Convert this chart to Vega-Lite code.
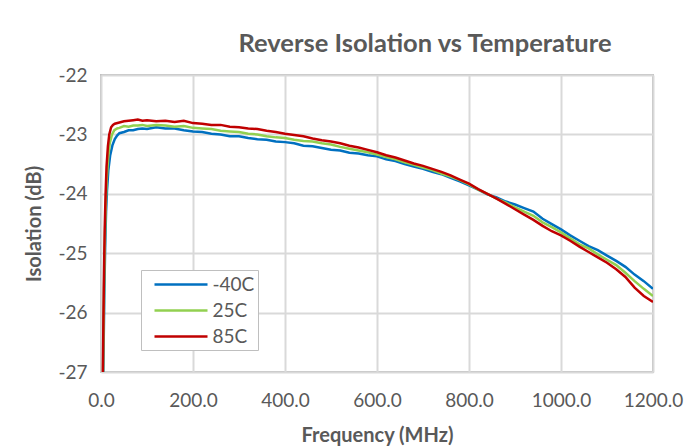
{
  "$schema": "https://vega.github.io/schema/vega-lite/v6.json",
  "width": 552,
  "height": 297,
  "autosize": {"type": "none"},
  "padding": {"left": 101, "top": 75, "right": 36, "bottom": 75},
  "background": "white",
  "title": {
    "text": "Reverse Isolation vs Temperature",
    "font": "Lato",
    "fontSize": 25.5,
    "fontWeight": "bold",
    "color": "#595959",
    "anchor": "middle",
    "dx": 48,
    "offset": 9
  },
  "config": {
    "view": {"stroke": "#bfbfbf", "strokeWidth": 2},
    "axis": {
      "labelFont": "Lato",
      "labelFontSize": 19,
      "labelColor": "#595959",
      "titleFont": "Lato",
      "titleFontSize": 20,
      "titleFontWeight": "bold",
      "titleColor": "#595959",
      "gridColor": "#d9d9d9",
      "gridWidth": 2,
      "domain": false,
      "ticks": false,
      "labelFlush": false,
      "labelOverlap": false,
      "labelBound": false
    },
    "legend": {"strokeColor": "#bfbfbf", "fillColor": "white"}
  },
  "data": {
    "values": [
      {"f":5,"v":-27.0,"s":"-40C"},{"f":7,"v":-25.8,"s":"-40C"},{"f":9,"v":-24.9,"s":"-40C"},{"f":11,"v":-24.3,"s":"-40C"},{"f":13,"v":-23.95,"s":"-40C"},{"f":16,"v":-23.6,"s":"-40C"},{"f":20,"v":-23.35,"s":"-40C"},{"f":25,"v":-23.18,"s":"-40C"},{"f":30,"v":-23.08,"s":"-40C"},{"f":35,"v":-23.02,"s":"-40C"},{"f":40,"v":-22.98,"s":"-40C"},{"f":50,"v":-22.96,"s":"-40C"},{"f":60,"v":-22.93,"s":"-40C"},{"f":70,"v":-22.93,"s":"-40C"},{"f":80,"v":-22.91,"s":"-40C"},{"f":90,"v":-22.9,"s":"-40C"},{"f":100,"v":-22.91,"s":"-40C"},{"f":120,"v":-22.88,"s":"-40C"},{"f":140,"v":-22.9,"s":"-40C"},{"f":160,"v":-22.9,"s":"-40C"},{"f":180,"v":-22.93,"s":"-40C"},{"f":200,"v":-22.95,"s":"-40C"},{"f":220,"v":-22.96,"s":"-40C"},{"f":240,"v":-22.99,"s":"-40C"},{"f":260,"v":-23.0,"s":"-40C"},{"f":280,"v":-23.03,"s":"-40C"},{"f":300,"v":-23.03,"s":"-40C"},{"f":320,"v":-23.06,"s":"-40C"},{"f":340,"v":-23.08,"s":"-40C"},{"f":360,"v":-23.09,"s":"-40C"},{"f":380,"v":-23.12,"s":"-40C"},{"f":400,"v":-23.13,"s":"-40C"},{"f":420,"v":-23.15,"s":"-40C"},{"f":440,"v":-23.19,"s":"-40C"},{"f":460,"v":-23.2,"s":"-40C"},{"f":480,"v":-23.23,"s":"-40C"},{"f":500,"v":-23.26,"s":"-40C"},{"f":520,"v":-23.27,"s":"-40C"},{"f":540,"v":-23.31,"s":"-40C"},{"f":560,"v":-23.32,"s":"-40C"},{"f":580,"v":-23.35,"s":"-40C"},{"f":600,"v":-23.37,"s":"-40C"},{"f":620,"v":-23.42,"s":"-40C"},{"f":640,"v":-23.45,"s":"-40C"},{"f":660,"v":-23.5,"s":"-40C"},{"f":680,"v":-23.54,"s":"-40C"},{"f":700,"v":-23.58,"s":"-40C"},{"f":720,"v":-23.63,"s":"-40C"},{"f":740,"v":-23.67,"s":"-40C"},{"f":760,"v":-23.73,"s":"-40C"},{"f":780,"v":-23.79,"s":"-40C"},{"f":800,"v":-23.86,"s":"-40C"},{"f":820,"v":-23.93,"s":"-40C"},{"f":840,"v":-24.01,"s":"-40C"},{"f":860,"v":-24.06,"s":"-40C"},{"f":880,"v":-24.13,"s":"-40C"},{"f":900,"v":-24.18,"s":"-40C"},{"f":920,"v":-24.24,"s":"-40C"},{"f":940,"v":-24.3,"s":"-40C"},{"f":960,"v":-24.42,"s":"-40C"},{"f":980,"v":-24.51,"s":"-40C"},{"f":1000,"v":-24.6,"s":"-40C"},{"f":1020,"v":-24.7,"s":"-40C"},{"f":1040,"v":-24.79,"s":"-40C"},{"f":1060,"v":-24.88,"s":"-40C"},{"f":1080,"v":-24.95,"s":"-40C"},{"f":1100,"v":-25.04,"s":"-40C"},{"f":1120,"v":-25.13,"s":"-40C"},{"f":1140,"v":-25.23,"s":"-40C"},{"f":1160,"v":-25.36,"s":"-40C"},{"f":1180,"v":-25.47,"s":"-40C"},{"f":1200,"v":-25.6,"s":"-40C"},
      {"f":4.5,"v":-27.0,"s":"25C"},{"f":6.5,"v":-25.7,"s":"25C"},{"f":8.5,"v":-24.75,"s":"25C"},{"f":10.5,"v":-24.15,"s":"25C"},{"f":12.5,"v":-23.75,"s":"25C"},{"f":15.5,"v":-23.4,"s":"25C"},{"f":19,"v":-23.15,"s":"25C"},{"f":24,"v":-23.0,"s":"25C"},{"f":29,"v":-22.93,"s":"25C"},{"f":35,"v":-22.9,"s":"25C"},{"f":40,"v":-22.89,"s":"25C"},{"f":50,"v":-22.86,"s":"25C"},{"f":60,"v":-22.87,"s":"25C"},{"f":70,"v":-22.85,"s":"25C"},{"f":80,"v":-22.85,"s":"25C"},{"f":90,"v":-22.84,"s":"25C"},{"f":100,"v":-22.86,"s":"25C"},{"f":120,"v":-22.84,"s":"25C"},{"f":140,"v":-22.85,"s":"25C"},{"f":160,"v":-22.87,"s":"25C"},{"f":180,"v":-22.86,"s":"25C"},{"f":200,"v":-22.89,"s":"25C"},{"f":220,"v":-22.9,"s":"25C"},{"f":240,"v":-22.91,"s":"25C"},{"f":260,"v":-22.94,"s":"25C"},{"f":280,"v":-22.95,"s":"25C"},{"f":300,"v":-22.96,"s":"25C"},{"f":320,"v":-22.99,"s":"25C"},{"f":340,"v":-23.0,"s":"25C"},{"f":360,"v":-23.03,"s":"25C"},{"f":380,"v":-23.05,"s":"25C"},{"f":400,"v":-23.06,"s":"25C"},{"f":420,"v":-23.09,"s":"25C"},{"f":440,"v":-23.11,"s":"25C"},{"f":460,"v":-23.12,"s":"25C"},{"f":480,"v":-23.15,"s":"25C"},{"f":500,"v":-23.17,"s":"25C"},{"f":520,"v":-23.21,"s":"25C"},{"f":540,"v":-23.24,"s":"25C"},{"f":560,"v":-23.27,"s":"25C"},{"f":580,"v":-23.3,"s":"25C"},{"f":600,"v":-23.34,"s":"25C"},{"f":620,"v":-23.38,"s":"25C"},{"f":640,"v":-23.42,"s":"25C"},{"f":660,"v":-23.47,"s":"25C"},{"f":680,"v":-23.51,"s":"25C"},{"f":700,"v":-23.56,"s":"25C"},{"f":720,"v":-23.6,"s":"25C"},{"f":740,"v":-23.66,"s":"25C"},{"f":760,"v":-23.71,"s":"25C"},{"f":780,"v":-23.77,"s":"25C"},{"f":800,"v":-23.84,"s":"25C"},{"f":820,"v":-23.93,"s":"25C"},{"f":840,"v":-24.0,"s":"25C"},{"f":860,"v":-24.08,"s":"25C"},{"f":880,"v":-24.15,"s":"25C"},{"f":900,"v":-24.23,"s":"25C"},{"f":920,"v":-24.3,"s":"25C"},{"f":940,"v":-24.37,"s":"25C"},{"f":960,"v":-24.48,"s":"25C"},{"f":980,"v":-24.56,"s":"25C"},{"f":1000,"v":-24.65,"s":"25C"},{"f":1020,"v":-24.75,"s":"25C"},{"f":1040,"v":-24.85,"s":"25C"},{"f":1060,"v":-24.92,"s":"25C"},{"f":1080,"v":-25.02,"s":"25C"},{"f":1100,"v":-25.11,"s":"25C"},{"f":1120,"v":-25.2,"s":"25C"},{"f":1140,"v":-25.33,"s":"25C"},{"f":1160,"v":-25.47,"s":"25C"},{"f":1180,"v":-25.6,"s":"25C"},{"f":1200,"v":-25.72,"s":"25C"},
      {"f":4,"v":-27.0,"s":"85C"},{"f":6,"v":-25.6,"s":"85C"},{"f":8,"v":-24.6,"s":"85C"},{"f":10,"v":-24.0,"s":"85C"},{"f":12,"v":-23.55,"s":"85C"},{"f":15,"v":-23.2,"s":"85C"},{"f":18,"v":-23.0,"s":"85C"},{"f":22,"v":-22.88,"s":"85C"},{"f":26,"v":-22.84,"s":"85C"},{"f":30,"v":-22.82,"s":"85C"},{"f":40,"v":-22.8,"s":"85C"},{"f":50,"v":-22.78,"s":"85C"},{"f":60,"v":-22.77,"s":"85C"},{"f":70,"v":-22.76,"s":"85C"},{"f":80,"v":-22.75,"s":"85C"},{"f":90,"v":-22.77,"s":"85C"},{"f":100,"v":-22.76,"s":"85C"},{"f":120,"v":-22.78,"s":"85C"},{"f":140,"v":-22.77,"s":"85C"},{"f":160,"v":-22.79,"s":"85C"},{"f":180,"v":-22.77,"s":"85C"},{"f":200,"v":-22.81,"s":"85C"},{"f":220,"v":-22.82,"s":"85C"},{"f":240,"v":-22.84,"s":"85C"},{"f":260,"v":-22.84,"s":"85C"},{"f":280,"v":-22.87,"s":"85C"},{"f":300,"v":-22.88,"s":"85C"},{"f":320,"v":-22.9,"s":"85C"},{"f":340,"v":-22.91,"s":"85C"},{"f":360,"v":-22.94,"s":"85C"},{"f":380,"v":-22.96,"s":"85C"},{"f":400,"v":-22.99,"s":"85C"},{"f":420,"v":-23.01,"s":"85C"},{"f":440,"v":-23.03,"s":"85C"},{"f":460,"v":-23.07,"s":"85C"},{"f":480,"v":-23.1,"s":"85C"},{"f":500,"v":-23.12,"s":"85C"},{"f":520,"v":-23.15,"s":"85C"},{"f":540,"v":-23.19,"s":"85C"},{"f":560,"v":-23.22,"s":"85C"},{"f":580,"v":-23.26,"s":"85C"},{"f":600,"v":-23.3,"s":"85C"},{"f":620,"v":-23.35,"s":"85C"},{"f":640,"v":-23.39,"s":"85C"},{"f":660,"v":-23.44,"s":"85C"},{"f":680,"v":-23.49,"s":"85C"},{"f":700,"v":-23.53,"s":"85C"},{"f":720,"v":-23.58,"s":"85C"},{"f":740,"v":-23.63,"s":"85C"},{"f":760,"v":-23.69,"s":"85C"},{"f":780,"v":-23.76,"s":"85C"},{"f":800,"v":-23.83,"s":"85C"},{"f":820,"v":-23.92,"s":"85C"},{"f":840,"v":-24.0,"s":"85C"},{"f":860,"v":-24.08,"s":"85C"},{"f":880,"v":-24.17,"s":"85C"},{"f":900,"v":-24.26,"s":"85C"},{"f":920,"v":-24.35,"s":"85C"},{"f":940,"v":-24.44,"s":"85C"},{"f":960,"v":-24.54,"s":"85C"},{"f":980,"v":-24.63,"s":"85C"},{"f":1000,"v":-24.7,"s":"85C"},{"f":1020,"v":-24.79,"s":"85C"},{"f":1040,"v":-24.89,"s":"85C"},{"f":1060,"v":-24.98,"s":"85C"},{"f":1080,"v":-25.07,"s":"85C"},{"f":1100,"v":-25.16,"s":"85C"},{"f":1120,"v":-25.27,"s":"85C"},{"f":1140,"v":-25.4,"s":"85C"},{"f":1160,"v":-25.58,"s":"85C"},{"f":1180,"v":-25.72,"s":"85C"},{"f":1200,"v":-25.82,"s":"85C"}
    ]
  },
  "mark": {"type": "line", "strokeWidth": 2.5, "clip": true, "interpolate": "linear"},
  "encoding": {
    "x": {
      "field": "f",
      "type": "quantitative",
      "title": "Frequency (MHz)",
      "scale": {"domain": [0, 1200], "nice": false},
      "axis": {"values": [0, 200, 400, 600, 800, 1000, 1200], "format": ".1f", "labelPadding": 19, "titlePadding": 15}
    },
    "y": {
      "field": "v",
      "type": "quantitative",
      "title": "Isolation (dB)",
      "scale": {"domain": [-27, -22], "nice": false, "zero": false},
      "axis": {"values": [-27, -26, -25, -24, -23, -22], "labelExpr": "'' + datum.value", "labelPadding": 14, "titlePadding": 13}
    },
    "color": {
      "field": "s",
      "type": "nominal",
      "sort": ["-40C", "25C", "85C"],
      "scale": {"domain": ["-40C", "25C", "85C"], "range": ["#0070C0", "#92D050", "#C00000"]},
      "legend": {
        "title": null,
        "orient": "none",
        "legendX": 40,
        "legendY": 195,
        "direction": "vertical",
        "symbolType": "M-2.65,0H2.65",
        "symbolSize": 400,
        "symbolStrokeWidth": 2.5,
        "symbolOffset": 25.5,
        "labelOffset": 20,
        "labelFont": "Lato",
        "labelFontSize": 19,
        "labelColor": "#595959",
        "rowPadding": 4,
        "padding": 3
      }
    }
  }
}
